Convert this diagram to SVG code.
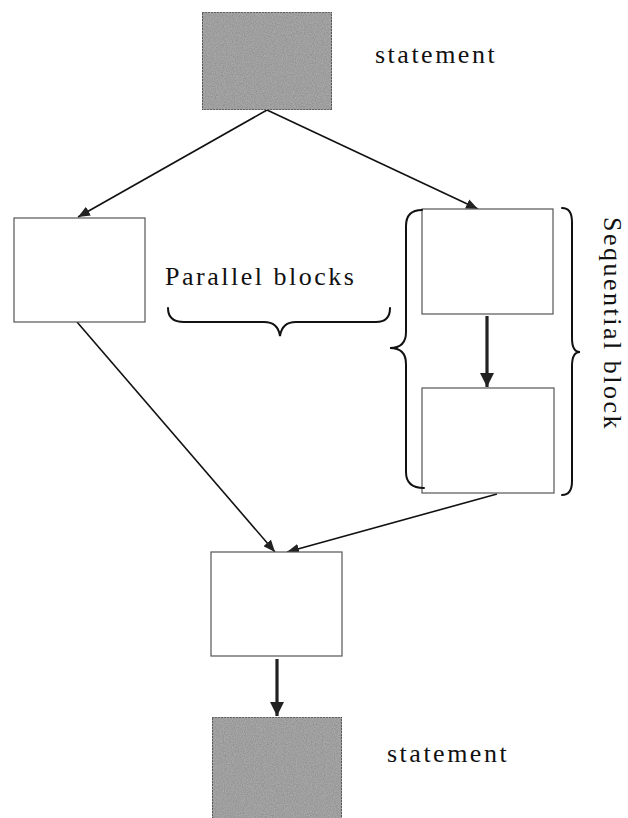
<svg xmlns="http://www.w3.org/2000/svg" width="628" height="818" viewBox="0 0 628 818">
  <defs>
    <style>
      .block { fill: #ffffff; stroke: #555555; stroke-width: 1.2; }
      .stmt { fill: #ababab; stroke: #333333; stroke-width: 1.2; stroke-dasharray: 2 1; filter: url(#grain); }
      .edge { fill: none; stroke: #111111; stroke-width: 1.6; }
      .edge-bold { fill: none; stroke: #222222; stroke-width: 3.2; }
      .brace { fill: none; stroke: #111111; stroke-width: 2; stroke-linecap: round; }
      .label { font-family: "Liberation Serif", "Times New Roman", serif; font-size: 26px; fill: #111111; letter-spacing: 2.5px; }
    </style>
    <!-- speckled grey fill for the statement boxes -->
    <filter id="grain" x="0" y="0" width="100%" height="100%">
      <feTurbulence type="fractalNoise" baseFrequency="0.9" numOctaves="2" seed="3" result="noise"/>
      <feColorMatrix in="noise" type="matrix" values="0.5 0 0 0 0.6  0.5 0 0 0 0.6  0.5 0 0 0 0.6  0 0 0 0 1" result="speck"/>
      <feBlend in="SourceGraphic" in2="speck" mode="multiply" result="mix"/>
      <feComposite in="mix" in2="SourceGraphic" operator="in"/>
    </filter>
    <marker id="arrow" viewBox="0 0 12 10" refX="12" refY="5" markerWidth="12" markerHeight="10" markerUnits="userSpaceOnUse" orient="auto">
      <path d="M0,0 L12,5 L0,10 Z" fill="#222222"/>
    </marker>
    <marker id="arrow-bold" viewBox="0 0 14 14" refX="14" refY="7" markerWidth="14" markerHeight="14" markerUnits="userSpaceOnUse" orient="auto">
      <path d="M0,0 L14,7 L0,14 Z" fill="#222222"/>
    </marker>
  </defs>

  <!-- connectors -->
  <g id="connectors">
    <line class="edge" x1="267" y1="110" x2="78" y2="217" marker-end="url(#arrow)"/>
    <line class="edge" x1="267" y1="110" x2="478" y2="209" marker-end="url(#arrow)"/>
    <line class="edge-bold" x1="487" y1="316" x2="487" y2="387" marker-end="url(#arrow-bold)"/>
    <line class="edge" x1="77" y1="322" x2="275" y2="552" marker-end="url(#arrow)"/>
    <line class="edge" x1="497" y1="494" x2="287" y2="552" marker-end="url(#arrow)"/>
    <line class="edge-bold" x1="277" y1="659" x2="277" y2="716" marker-end="url(#arrow-bold)"/>
  </g>

  <!-- nodes -->
  <g id="statement-top">
    <rect class="stmt" x="202" y="12" width="130" height="98"/>
    <text class="label" x="375" y="63">statement</text>
  </g>

  <g id="parallel-left">
    <rect class="block" x="14" y="218" width="131" height="104"/>
  </g>

  <g id="sequential-first">
    <rect class="block" x="422" y="209" width="131" height="105"/>
  </g>

  <g id="sequential-second">
    <rect class="block" x="422" y="388" width="132" height="105"/>
  </g>

  <g id="join">
    <rect class="block" x="211" y="552" width="131" height="104"/>
  </g>

  <g id="statement-bottom">
    <rect class="stmt" x="212" y="717" width="130" height="110"/>
    <text class="label" x="387" y="762">statement</text>
  </g>

  <!-- annotations -->
  <g id="parallel-label">
    <text class="label" x="165" y="285">Parallel blocks</text>
    <path class="brace" d="M168,308 Q168,322 184,322 L264,322 Q278,322 280,336 Q282,322 296,322 L376,322 Q390,322 390,308"/>
  </g>

  <g id="sequential-label">
    <path class="brace" d="M422,210 Q406,210 406,226 L406,332 Q406,348 390,348 Q406,348 406,364 L406,472 Q406,488 424,488"/>
    <path class="brace" d="M562,208 Q572,208 572,222 L572,338 Q572,352 580,352 Q572,352 572,366 L572,481 Q572,495 562,495"/>
    <text class="label" x="0" y="0" text-anchor="middle" font-size="25" letter-spacing="0.5" transform="translate(604,324) rotate(90)">Sequential block</text>
  </g>
</svg>
